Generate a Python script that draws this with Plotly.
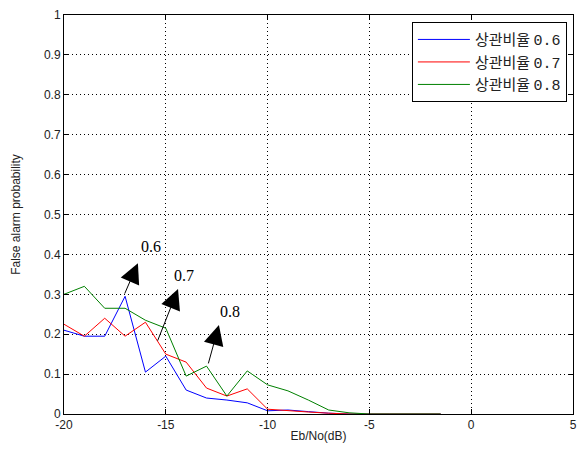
import plotly.graph_objects as go

x_vals = [-20, -19, -18, -17, -16, -15, -14, -13, -12, -11, -10, -9, -8, -7, -6, -5, -4, -3, -2, -1.5]
p06 = [0.21, 0.195, 0.195, 0.295, 0.105, 0.145, 0.06, 0.04, 0.035, 0.028, 0.008, 0.01, 0.006, 0.002, 0, 0, 0, 0, 0, 0]
p07 = [0.225, 0.195, 0.24, 0.195, 0.23, 0.15, 0.13, 0.065, 0.045, 0.063, 0.012, 0.008, 0.005, 0.002, 0, 0, 0, 0, 0, 0]
p08 = [0.30, 0.32, 0.265, 0.265, 0.235, 0.215, 0.095, 0.12, 0.045, 0.108, 0.073, 0.058, 0.035, 0.01, 0.003, 0, 0, 0, 0, 0]
series_labels = ["상관비율", "상관비율", "상관비율"]
series_ratios = ["0.6", "0.7", "0.8"]
series_colors = ["#0000ff", "#ff0000", "#008000"]

x_ticks = [-20, -15, -10, -5, 0, 5]
y_ticks = [0, 0.1, 0.2, 0.3, 0.4, 0.5, 0.6, 0.7, 0.8, 0.9, 1]
y_ticktext = ["0", "0.1", "0.2", "0.3", "0.4", "0.5", "0.6", "0.7", "0.8", "0.9", "1"]

# arrow annotations: (label, tail, head, text position)
arrow_labels = ["0.6", "0.7", "0.8"]
arrow_tail = [(-17.05, 0.298), (-15.43, 0.18), (-12.93, 0.123)]
arrow_head = [(-16.37, 0.378), (-14.4, 0.313), (-12.39, 0.223)]
label_pos = [(-15.73, 0.421), (-14.1, 0.346), (-11.85, 0.258)]

fig = go.Figure()
for lbl, r, ys, c in zip(series_labels, series_ratios, [p06, p07, p08], series_colors):
    name = f'{lbl}\u00a0<span style="font-family:Liberation Mono">{r}</span>'
    fig.add_trace(go.Scatter(x=x_vals, y=ys, mode="lines", name=name,
                             line=dict(color=c, width=1)))

for lab, t, h, lp in zip(arrow_labels, arrow_tail, arrow_head, label_pos):
    fig.add_annotation(x=h[0], y=h[1], ax=t[0], ay=t[1], xref="x", yref="y",
                       axref="x", ayref="y", text="", showarrow=True,
                       arrowhead=2, arrowsize=4, arrowwidth=1, arrowcolor="black")
    fig.add_annotation(x=lp[0], y=lp[1], xref="x", yref="y", text=lab, showarrow=False,
                       font=dict(family="Liberation Serif", size=16, color="black"))

axis_common = dict(showline=True, linecolor="black", linewidth=1, mirror="ticks",
                   ticks="inside", ticklen=5, tickcolor="black", automargin=False,
                   showgrid=True, gridcolor="#000000", griddash="1px,3px", gridwidth=1,
                   zeroline=False, tickfont=dict(family="Liberation Sans", size=12, color="#222222"))

fig.update_xaxes(range=[-20, 5], tickvals=x_ticks, ticktext=[str(v) for v in x_ticks],
                 title=dict(text="Eb/No(dB)", font=dict(family="Liberation Sans", size=12, color="#222222"), standoff=0),
                 **axis_common)
fig.update_yaxes(range=[0, 1], tickvals=y_ticks, ticktext=y_ticktext,
                 title=dict(text="False alarm probability", font=dict(family="Liberation Sans", size=12, color="#222222"), standoff=20),
                 **axis_common)

# page body has a default margin, so the figure is sized to fit the window
fig.update_layout(
    width=579, height=448,
    margin=dict(l=56, r=14, t=7, b=42),
    paper_bgcolor="white", plot_bgcolor="white",
    showlegend=True,
    legend=dict(x=0.988, y=0.982, xanchor="right", yanchor="top",
                bgcolor="white", bordercolor="black", borderwidth=1,
                font=dict(family="Noto Sans CJK KR", size=15, color="#222222"),
                tracegroupgap=0, itemwidth=52),
)

fig.write_html("out.html")
